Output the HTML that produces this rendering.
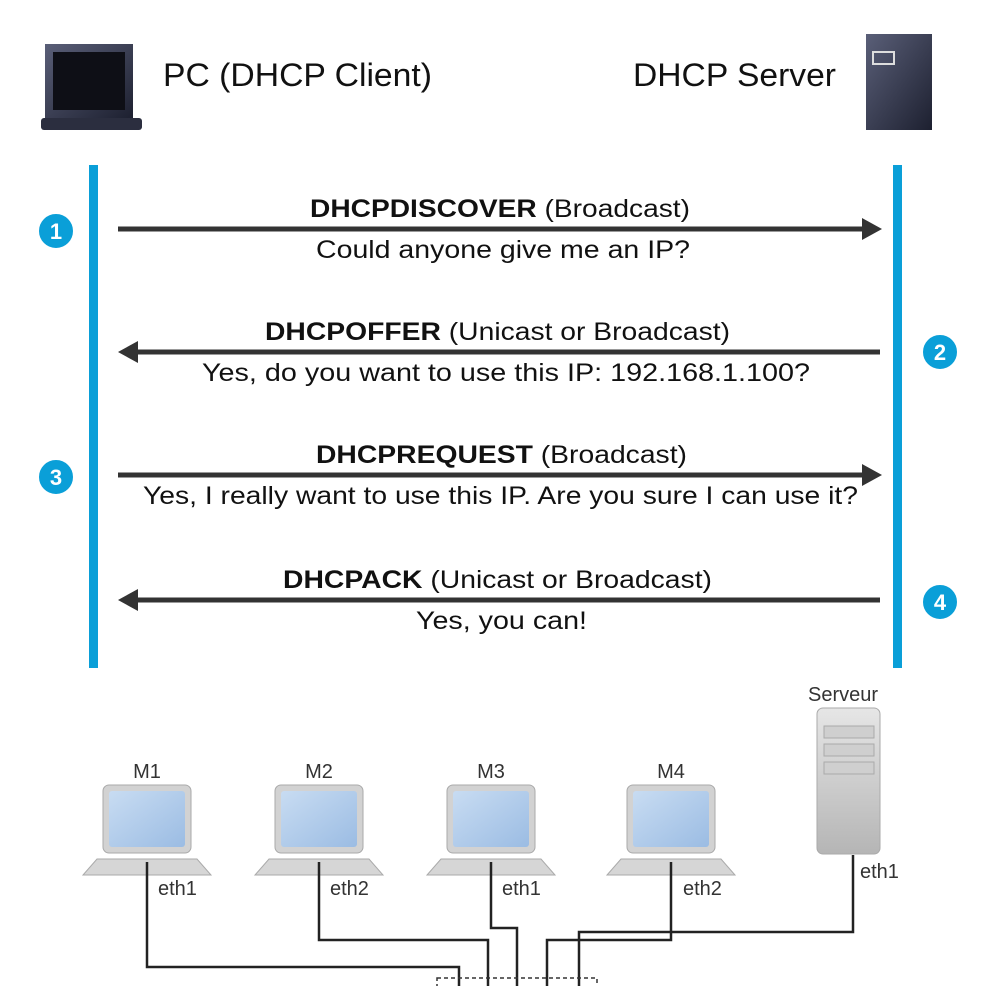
<!DOCTYPE html>
<html><head><meta charset="utf-8"><style>
body{margin:0;width:986px;height:986px;background:#fff;overflow:hidden}
svg{display:block}
text{font-family:"Liberation Sans",sans-serif}
</style></head><body>
<svg width="986" height="986" viewBox="0 0 986 986">
<defs>
<linearGradient id="lg" x1="0" y1="0" x2="1" y2="1"><stop offset="0" stop-color="#5a5f78"/><stop offset="1" stop-color="#1d2030"/></linearGradient>
<linearGradient id="sg" x1="0" y1="0" x2="1" y2="1"><stop offset="0" stop-color="#c8dcf2"/><stop offset="1" stop-color="#9bbce3"/></linearGradient>
<linearGradient id="srv" x1="0" y1="0" x2="0" y2="1"><stop offset="0" stop-color="#e6e6e6"/><stop offset="1" stop-color="#b5b5b5"/></linearGradient>
<g id="lap">
<rect x="-44" y="0" width="88" height="68" rx="6" fill="#d2d2d2" stroke="#aaa"/>
<rect x="-38" y="6" width="76" height="56" rx="3" fill="url(#sg)"/>
<path d="M-50 74 L50 74 L64 90 L-64 90 Z" fill="#d6d6d6" stroke="#aaa"/>
</g>
</defs>
<rect x="45" y="44" width="88" height="74" fill="url(#lg)"/>
<rect x="53" y="52" width="72" height="58" fill="#0e0f16"/>
<rect x="41" y="118" width="101" height="12" rx="3" fill="#2b2e3f"/>
<text x="163" y="86" font-size="32" fill="#111" textLength="269" lengthAdjust="spacingAndGlyphs">PC (DHCP Client)</text>
<text x="633" y="86" font-size="32" fill="#111" textLength="203" lengthAdjust="spacingAndGlyphs">DHCP Server</text>
<rect x="866" y="34" width="66" height="96" fill="url(#lg)"/>
<rect x="873" y="52" width="21" height="12" fill="none" stroke="#ddd" stroke-width="2"/>
<rect x="89" y="165" width="9" height="503" fill="#0a9fd8"/>
<rect x="893" y="165" width="9" height="503" fill="#0a9fd8"/>
<g fill="#0a9fd8" stroke="#fff" stroke-width="2">
<circle cx="56" cy="231" r="18"/><circle cx="940" cy="352" r="18"/><circle cx="56" cy="477" r="18"/><circle cx="940" cy="602" r="18"/></g>
<g fill="#fff" font-size="22" font-weight="bold" text-anchor="middle">
<text x="56" y="239">1</text><text x="940" y="360">2</text><text x="56" y="485">3</text><text x="940" y="610">4</text></g>
<g stroke="#333" stroke-width="5">
<line x1="118" y1="229" x2="866" y2="229"/><line x1="134" y1="352" x2="880" y2="352"/>
<line x1="118" y1="475" x2="866" y2="475"/><line x1="134" y1="600" x2="880" y2="600"/></g>
<g fill="#333">
<path d="M882 229 L862 218 L862 240Z"/><path d="M118 352 L138 341 L138 363Z"/>
<path d="M882 475 L862 464 L862 486Z"/><path d="M118 600 L138 589 L138 611Z"/></g>
<g font-size="25" fill="#111" lengthAdjust="spacingAndGlyphs">
<text x="310" y="217" textLength="380" lengthAdjust="spacingAndGlyphs"><tspan font-weight="bold">DHCPDISCOVER</tspan> (Broadcast)</text>
<text x="316" y="258" textLength="374" lengthAdjust="spacingAndGlyphs">Could anyone give me an IP?</text>
<text x="265" y="340" textLength="465" lengthAdjust="spacingAndGlyphs"><tspan font-weight="bold">DHCPOFFER</tspan> (Unicast or Broadcast)</text>
<text x="202" y="381" textLength="608" lengthAdjust="spacingAndGlyphs">Yes, do you want to use this IP: 192.168.1.100?</text>
<text x="316" y="463" textLength="371" lengthAdjust="spacingAndGlyphs"><tspan font-weight="bold">DHCPREQUEST</tspan> (Broadcast)</text>
<text x="143" y="504" textLength="715" lengthAdjust="spacingAndGlyphs">Yes, I really want to use this IP. Are you sure I can use it?</text>
<text x="283" y="588" textLength="429" lengthAdjust="spacingAndGlyphs"><tspan font-weight="bold">DHCPACK</tspan> (Unicast or Broadcast)</text>
<text x="416" y="629" textLength="171" lengthAdjust="spacingAndGlyphs">Yes, you can!</text>
</g>
<g font-size="20" fill="#333" text-anchor="middle">
<text x="147" y="778">M1</text><text x="319" y="778">M2</text><text x="491" y="778">M3</text><text x="671" y="778">M4</text>
<text x="843" y="701">Serveur</text></g>
<use href="#lap" x="147" y="785"/><use href="#lap" x="319" y="785"/><use href="#lap" x="491" y="785"/><use href="#lap" x="671" y="785"/>
<rect x="817" y="708" width="63" height="146" rx="6" fill="url(#srv)" stroke="#aaa"/>
<g fill="#cfcfcf" stroke="#aaa"><rect x="824" y="726" width="50" height="12"/><rect x="824" y="744" width="50" height="12"/><rect x="824" y="762" width="50" height="12"/></g>
<g font-size="20" fill="#333">
<text x="158" y="895">eth1</text><text x="330" y="895">eth2</text><text x="502" y="895">eth1</text><text x="683" y="895">eth2</text><text x="860" y="878">eth1</text></g>
<g fill="none" stroke="#222" stroke-width="2.5">
<path d="M147 862 V967 H459 V986"/>
<path d="M319 862 V940 H488 V986"/>
<path d="M491 862 V928 H517 V986"/>
<path d="M671 862 V940 H547 V986"/>
<path d="M853 855 V932 H579 V986"/>
</g>
<rect x="437" y="978" width="160" height="20" fill="none" stroke="#333" stroke-width="1.5" stroke-dasharray="4 3"/>
</svg>
</body></html>
